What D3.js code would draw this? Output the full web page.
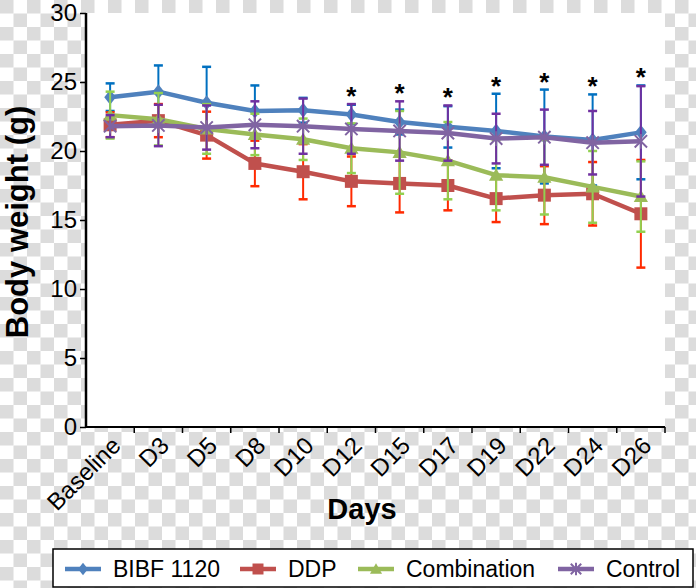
<!DOCTYPE html>
<html><head><meta charset="utf-8">
<script src="https://cdn.jsdelivr.net/npm/d3@7"></script>
<style>html,body{margin:0;padding:0;background:#fff;}svg{display:block;font-family:"Liberation Sans",Arial,sans-serif;}</style>
</head><body><svg id="chart" width="696" height="588"></svg>
<script>
const categories = ["Baseline","D3","D5","D8","D10","D12","D15","D17","D19","D22","D24","D26"];
const bibf       = [23.9,24.3,23.5,22.9,22.95,22.65,22.1,21.75,21.45,21.05,20.8,21.35];
const bibfErr    = [1.0,1.9,2.6,1.85,0.9,0.7,0.9,1.5,2.7,3.4,3.3,3.4];
const ddp        = [21.9,22.2,21.15,19.1,18.5,17.8,17.65,17.5,16.55,16.8,16.9,15.45];
const ddpErr     = [0.9,1.2,1.7,1.65,2.0,1.8,2.1,1.8,1.7,2.1,2.3,3.9];
const combo      = [22.6,22.3,21.6,21.2,20.85,20.2,19.9,19.3,18.25,18.1,17.4,16.7];
const comboErr   = [1.7,1.9,1.8,1.5,1.5,1.8,3.0,2.8,2.55,2.7,2.6,2.55];
const control    = [21.8,21.85,21.7,21.9,21.8,21.6,21.45,21.3,20.9,21.0,20.6,20.7];
const controlErr = [0.8,1.5,1.6,1.7,2.0,1.8,2.15,2.0,1.8,2.0,2.3,4.0];
const significant = ["D12","D15","D17","D19","D22","D24","D26"];
const yTicks = [0,5,10,15,20,25,30];
const seriesNames = ["BIBF 1120","DDP","Combination","Control"];

const series = [
  {name: seriesNames[0], values: bibf, err: bibfErr, color: "#4f81bd", errColor: "#0070c0", marker: "diamond"},
  {name: seriesNames[1], values: ddp, err: ddpErr, color: "#c0504d", errColor: "#ff2a00", marker: "square"},
  {name: seriesNames[2], values: combo, err: comboErr, color: "#9bbb59", errColor: "#92d050", marker: "triangle"},
  {name: seriesNames[3], values: control, err: controlErr, color: "#8064a2", errColor: "#7030a0", marker: "star"}
];

const svg = d3.select("#chart");
const W = 696, H = 588;
const plot = {left: 86, right: 665, top: 13, bottom: 427};

// transparent-look checkerboard
const defs = svg.append("defs");
const pat = defs.append("pattern").attr("id","checker").attr("patternUnits","userSpaceOnUse")
  .attr("width",27).attr("height",27);
pat.append("rect").attr("width",27).attr("height",27).attr("fill","#ffffff");
pat.append("rect").attr("x",0).attr("y",0).attr("width",13.5).attr("height",13.5).attr("fill","#dcdcdc");
pat.append("rect").attr("x",13.5).attr("y",13.5).attr("width",13.5).attr("height",13.5).attr("fill","#dcdcdc");
svg.append("rect").attr("width",W).attr("height",H).attr("fill","url(#checker)");

const x = d3.scaleBand().domain(categories).range([plot.left, plot.right]);
const y = d3.scaleLinear().domain([0,30]).range([plot.bottom, plot.top]);

svg.append("rect").attr("x",plot.left).attr("y",plot.top)
  .attr("width",plot.right-plot.left).attr("height",plot.bottom-plot.top).attr("fill","#fff");

// axes
const yAxis = svg.append("g").attr("transform",`translate(${plot.left},0)`)
  .call(d3.axisLeft(y).tickValues(yTicks).tickSize(6).tickPadding(3).tickFormat(d3.format("d")));
yAxis.select(".domain").attr("stroke","#000").attr("stroke-width",2.5).attr("d",`M0,${plot.top}V${plot.bottom}`);
yAxis.selectAll(".tick line").attr("stroke","#000").attr("stroke-width",1.5);
yAxis.selectAll(".tick text").attr("font-size",24).attr("fill","#000");

const xAxis = svg.append("g").attr("transform",`translate(0,${plot.bottom})`)
  .call(d3.axisBottom(x).tickSize(0).tickFormat(""));
xAxis.select(".domain").attr("stroke","#000").attr("stroke-width",2).attr("d",`M${plot.left},0H${plot.right}`);
xAxis.selectAll(".tick").remove();
// boundary ticks
const bounds = categories.map(c => x(c) + x.bandwidth());
xAxis.selectAll("line.bt").data(bounds).enter().append("line")
  .attr("x1",d=>d).attr("x2",d=>d).attr("y1",0).attr("y2",6).attr("stroke","#000").attr("stroke-width",1.5);
// category labels
svg.append("g").selectAll("text").data(categories).enter().append("text")
  .attr("transform", d => `translate(${x(d)+x.bandwidth()/2+12},${plot.bottom+20}) rotate(-45)`)
  .attr("text-anchor","end").attr("font-size",24).attr("fill","#000").text(d=>d);

// axis titles
svg.append("text").attr("transform",`translate(17,${(plot.top+plot.bottom)/2+2}) rotate(-90)`)
  .attr("text-anchor","middle").attr("dominant-baseline","central")
  .attr("font-size",31).attr("font-weight","bold").text("Body weight (g)");
svg.append("text").attr("x",362).attr("y",519).attr("text-anchor","middle")
  .attr("font-size",29).attr("font-weight","bold").text("Days");

function markerPath(type, s) {
  if (type === "diamond") return `M0,${-s*1.15}L${s*0.9},0L0,${s*1.15}L${-s*0.9},0Z`;
  if (type === "square") return `M${-s},${-s}H${s}V${s}H${-s}Z`;
  if (type === "triangle") return `M0,${-s*1.05}L${s*1.1},${s*0.85}L${-s*1.1},${s*0.85}Z`;
  return "";
}
function drawMarker(g, type, color, cx, cy, s) {
  if (type === "star") {
    const a = s*0.95;
    g.append("path").attr("d",`M${cx-a},${cy-a}L${cx+a},${cy+a}M${cx-a},${cy+a}L${cx+a},${cy-a}M${cx},${cy-a*1.2}V${cy+a*1.2}`)
      .attr("stroke",color).attr("stroke-width",2).attr("fill","none");
  } else {
    g.append("path").attr("d",markerPath(type,s)).attr("transform",`translate(${cx},${cy})`).attr("fill",color);
  }
}

const cx = c => x(c) + x.bandwidth()/2;
const line = d3.line().x((d,i)=>cx(categories[i])).y(d=>y(d));

series.forEach(s => {
  const g = svg.append("g");
  s.values.forEach((v,i) => {
    const xx = cx(categories[i]);
    const y1 = y(v + s.err[i]), y2 = y(v - s.err[i]);
    g.append("line").attr("x1",xx).attr("x2",xx).attr("y1",y1).attr("y2",y2)
      .attr("stroke",s.errColor).attr("stroke-width",2);
    [y1,y2].forEach(yy => g.append("line").attr("x1",xx-4.5).attr("x2",xx+4.5).attr("y1",yy).attr("y2",yy)
      .attr("stroke",s.errColor).attr("stroke-width",2.5));
  });
  g.append("path").attr("d",line(s.values)).attr("fill","none").attr("stroke",s.color)
    .attr("stroke-width",4.5).attr("stroke-linejoin","round");
  s.values.forEach((v,i) => drawMarker(g, s.marker, s.color, cx(categories[i]), y(v), 6.5));
});

// significance asterisks above highest error bar
svg.append("g").selectAll("text").data(significant).enter().append("text")
  .attr("x", d => cx(d))
  .attr("y", d => {
    const i = categories.indexOf(d);
    const top = d3.max(series, s => s.values[i] + s.err[i]);
    return y(top) - 13 + 14;
  })
  .attr("text-anchor","middle").attr("font-size",26).attr("font-weight","bold").attr("fill","#000").text("*");

// legend
const lg = svg.append("g");
lg.append("rect").attr("x",53).attr("y",549).attr("width",640).attr("height",38)
  .attr("fill","#fff").attr("stroke","#000").attr("stroke-width",1.5);
const legendX = [65, 240, 358, 558];
series.forEach((s,i) => {
  const lx = legendX[i], ly = 569;
  lg.append("line").attr("x1",lx).attr("x2",lx+36).attr("y1",ly).attr("y2",ly)
    .attr("stroke",s.color).attr("stroke-width",4.5);
  drawMarker(lg, s.marker, s.color, lx+18, ly, 5.5);
  lg.append("text").attr("x",lx+48).attr("y",ly+8).attr("font-size",23).attr("fill","#000").text(s.name);
});
</script></body></html>
